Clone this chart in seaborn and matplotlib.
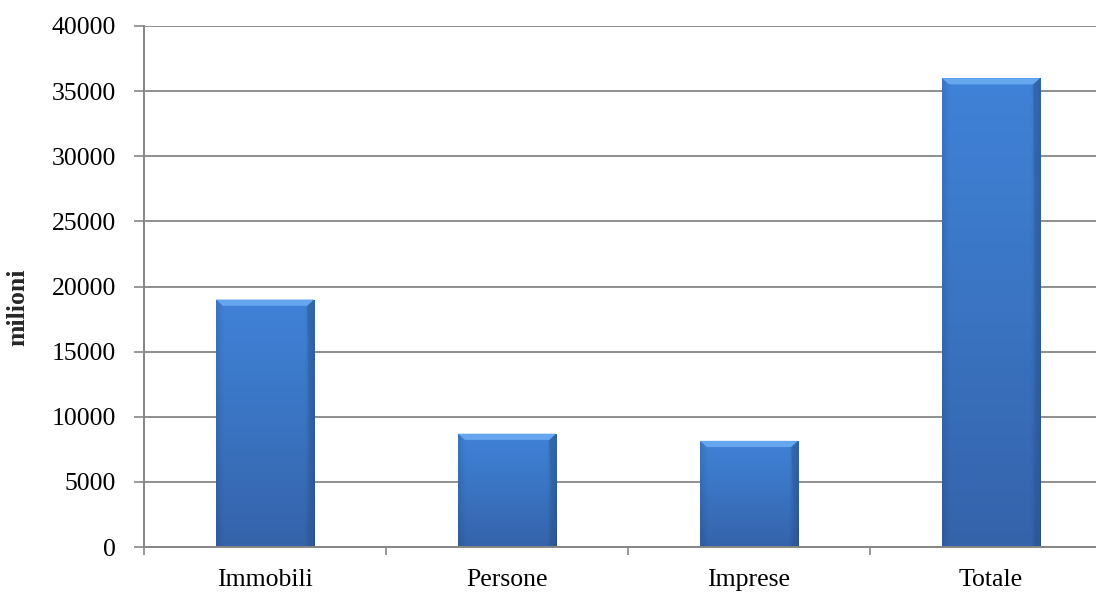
import numpy as np
import pandas as pd
import matplotlib
matplotlib.use("Agg")
import matplotlib.pyplot as plt
import seaborn as sns
from matplotlib.colors import LinearSegmentedColormap
from matplotlib.patches import Polygon

categories = ["Immobili", "Persone", "Imprese", "Totale"]
values = [19000, 8700, 8150, 36000]
yticks = [0, 5000, 10000, 15000, 20000, 25000, 30000, 35000, 40000]
ylabel = "milioni"

df = pd.DataFrame({"cat": categories, "val": values})

sns.set_theme(style="white")
plt.rcParams["font.family"] = ["Liberation Serif", "DejaVu Serif"]

fig = plt.figure(figsize=(10.96, 5.92), dpi=100)
ax = fig.add_axes([144 / 1096, 1 - 547 / 592, 968 / 1096, 521 / 592])

sns.barplot(data=df, x="cat", y="val", ax=ax, color="#3c78c8", width=0.405,
            edgecolor="none", linewidth=0, zorder=3)

ax.set_xlim(-0.5, len(categories) - 0.5)
ax.set_ylim(yticks[0], yticks[-1])
ax.set_yticks(yticks)
ax.set_yticklabels([str(t) for t in yticks], fontsize=18.5, color="black")
ax.tick_params(axis="y", which="major", length=7, width=1.2, color="#868686",
               direction="out", pad=13, left=True)
ax.tick_params(axis="x", which="major", length=0, pad=16, labelsize=18.5,
               labelcolor="black")
ax.set_xticks(np.arange(-0.5, len(categories), 1.0), minor=True)
ax.tick_params(axis="x", which="minor", length=6, width=1.2, color="#868686",
               direction="out", bottom=True)
ax.set_xlabel("")
ax.set_ylabel(ylabel, fontsize=18.5, fontweight="bold")
ax.yaxis.set_label_coords(-0.119, 0.46)

ax.grid(axis="y", color="#868686", linewidth=1.3, zorder=0)
ax.grid(axis="x", visible=False)
for s in ["top", "right"]:
    ax.spines[s].set_visible(False)
for s in ["left", "bottom"]:
    ax.spines[s].set_color("#868686")
    ax.spines[s].set_linewidth(1.4)
    ax.spines[s].set_zorder(5)

# gradient / bevel on bars
body = LinearSegmentedColormap.from_list("b", ["#3563aa", "#3a74c2", "#4082d8"])
side = LinearSegmentedColormap.from_list(
    "s", [(0, (0, 0, 0, 0.10)), (0.08, (0, 0, 0, 0.0)), (0.9, (0, 0, 0, 0.0)),
          (1, (0, 0, 0, 0.22))])
grad_v = np.linspace(0, 1, 256).reshape(-1, 1)
grad_h = np.linspace(0, 1, 256).reshape(1, -1)
for p in list(ax.patches):
    x0, y0 = p.get_x(), p.get_y()
    w, h = p.get_width(), p.get_height()
    im = ax.imshow(grad_v, cmap=body, origin="lower", aspect="auto",
                   extent=[x0, x0 + w, y0, y0 + h], zorder=3.5)
    im.set_clip_path(p)
    im2 = ax.imshow(grad_h, cmap=side, origin="lower", aspect="auto",
                    extent=[x0, x0 + w, y0, y0 + h], zorder=3.6)
    im2.set_clip_path(p)
    bev = 480  # bevel height in data units
    dx = w * 0.07
    top = y0 + h
    poly = Polygon([[x0, top], [x0 + w, top], [x0 + w - dx, top - bev],
                    [x0 + dx, top - bev]], closed=True,
                   facecolor="#66a6ee", edgecolor="none", zorder=3.8)
    ax.add_patch(poly)
    poly2 = Polygon([[x0 + w, top], [x0 + w, y0], [x0 + w - w * 0.03, y0],
                     [x0 + w - dx, top - bev]], closed=True,
                    facecolor="#2f5f9f", alpha=0.55, edgecolor="none", zorder=3.7)
    ax.add_patch(poly2)

ax.set_xlim(-0.5, len(categories) - 0.5)
ax.set_ylim(yticks[0], yticks[-1])

fig.savefig("out.png", dpi=100)
